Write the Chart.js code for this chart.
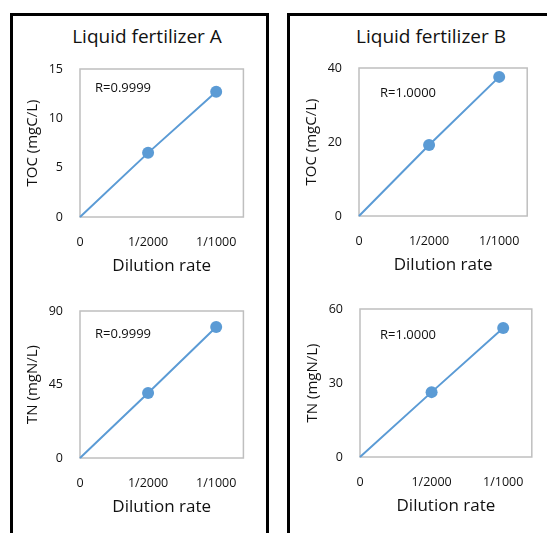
<!DOCTYPE html>
<html>
<head>
<meta charset="utf-8">
<script src="https://cdn.jsdelivr.net/npm/chart.js@4.4.0/dist/chart.umd.min.js"></script>
<style>
  html, body { margin: 0; padding: 0; background: #fff; }
  body { width: 547px; height: 533px; overflow: hidden; position: relative; font-family: "Open Sans", sans-serif; }
  .panel { position: absolute; top: 13px; height: 600px; border: 3px solid #000; box-sizing: border-box; }
  .title { position: absolute; top: 23px; font-size: 19px; color: #111; white-space: nowrap; transform: translateX(-50%); }
  canvas { position: absolute; }
</style>
</head>
<body>
<div class="panel" style="left:10px; width:259px;"></div>
<div class="panel" style="left:287px; width:300px;"></div>
<div class="title" style="left:147px;">Liquid fertilizer A</div>
<div class="title" style="left:431px;">Liquid fertilizer B</div>

<canvas id="toc-a"></canvas>
<canvas id="tn-a"></canvas>
<canvas id="toc-b"></canvas>
<canvas id="tn-b"></canvas>

<script>
// Data
const dilutionRates = [0, 1 / 2000, 1 / 1000];
const xTickLabels = ['0', '1/2000', '1/1000'];

const tocA = [0, 6.5, 12.7];
const tnA = [0, 39.8, 80.2];
const tocB = [0, 19.2, 37.6];
const tnB = [0, 26.3, 52.3];

const tocATicks = [0, 5, 10, 15];
const tnATicks = [0, 45, 90];
const tocBTicks = [0, 20, 40];
const tnBTicks = [0, 30, 60];

const rA = 'R=0.9999';
const rB = 'R=1.0000';

const xMax = 0.0012;
const lineColor = '#5b9bd5';
const textColor = '#111';

// Draw the grey box round the plot area and the R label
const plotFrame = {
  id: 'plotFrame',
  beforeDatasetsDraw(chart) {
    const { ctx, chartArea: a } = chart;
    ctx.save();
    ctx.strokeStyle = '#bfbfbf';
    ctx.lineWidth = 1.5;
    ctx.strokeRect(a.left, a.top, a.right - a.left, a.bottom - a.top);
    const note = chart.options.plugins.plotFrame;
    ctx.fillStyle = textColor;
    ctx.font = '13px "Open Sans"';
    ctx.textBaseline = 'middle';
    ctx.fillText(note.text, a.left + note.dx, a.top + note.dy);
    ctx.restore();
  }
};

// Build one chart; box = wanted plot area in page pixels
function makeChart(id, values, yTicks, yTitle, rText, box, note) {
  const canvas = document.getElementById(id);
  // top padding kept larger than the room chart.js wants for the top y label
  const padTop = 32, padRight = 10, yWidth = 66, xHeight = 60;
  const w = box.w + yWidth + padRight;
  const h = box.h + padTop + xHeight;
  canvas.style.left = (box.x - yWidth) + 'px';
  canvas.style.top = (box.y - padTop) + 'px';
  canvas.style.width = w + 'px';
  canvas.style.height = h + 'px';
  canvas.width = w;
  canvas.height = h;

  return new Chart(canvas.getContext('2d'), {
    type: 'scatter',
    data: {
      datasets: [{
        data: dilutionRates.map((x, i) => ({ x: x, y: values[i] })),
        showLine: true,
        borderColor: lineColor,
        backgroundColor: lineColor,
        borderWidth: 2,
        pointRadius: [0, 6, 6],
        pointHoverRadius: [0, 6, 6],
        pointBorderWidth: 0,
        clip: false
      }]
    },
    options: {
      responsive: false,
      animation: false,
      layout: { padding: { top: padTop, right: padRight, left: 0, bottom: 0 } },
      plugins: {
        legend: { display: false },
        tooltip: { enabled: false },
        plotFrame: { text: rText, dx: note.dx, dy: note.dy }
      },
      scales: {
        x: {
          type: 'linear',
          min: 0,
          max: xMax,
          afterBuildTicks: scale => { scale.ticks = dilutionRates.map(v => ({ value: v })); },
          afterFit: scale => { scale.height = xHeight; },
          grid: { display: false, drawTicks: false },
          border: { display: false },
          ticks: {
            padding: 18,
            color: textColor,
            font: { family: 'Open Sans', size: 12.5 },
            maxRotation: 0,
            autoSkip: false,
            callback: (v, i) => xTickLabels[i]
          },
          title: {
            display: true,
            text: 'Dilution rate',
            color: textColor,
            font: { family: 'Open Sans', size: 17 },
            padding: { top: 0, bottom: 1 }
          }
        },
        y: {
          min: 0,
          max: yTicks[yTicks.length - 1],
          afterBuildTicks: scale => { scale.ticks = yTicks.map(v => ({ value: v })); },
          afterFit: scale => { scale.width = yWidth; },
          grid: { display: false, drawTicks: false },
          border: { display: false },
          ticks: {
            padding: 17,
            color: textColor,
            font: { family: 'Open Sans', size: 12.5 }
          },
          title: {
            display: true,
            text: yTitle,
            color: textColor,
            font: { family: 'Open Sans', size: 15 },
            padding: { top: 10, bottom: 0 }
          }
        }
      }
    },
    plugins: [plotFrame]
  });
}

makeChart('toc-a', tocA, tocATicks, 'TOC (mgC/L)', rA, { x: 80, y: 69, w: 166, h: 148 }, { dx: 15, dy: 19 });
makeChart('tn-a', tnA, tnATicks, 'TN (mgN/L)', rA, { x: 80, y: 311, w: 166, h: 147 }, { dx: 15, dy: 23 });
makeChart('toc-b', tocB, tocBTicks, 'TOC (mgC/L)', rB, { x: 359, y: 68, w: 170, h: 148 }, { dx: 21, dy: 25 });
makeChart('tn-b', tnB, tnBTicks, 'TN (mgN/L)', rB, { x: 360, y: 309, w: 173, h: 148 }, { dx: 20, dy: 26 });
</script>
</body>
</html>
